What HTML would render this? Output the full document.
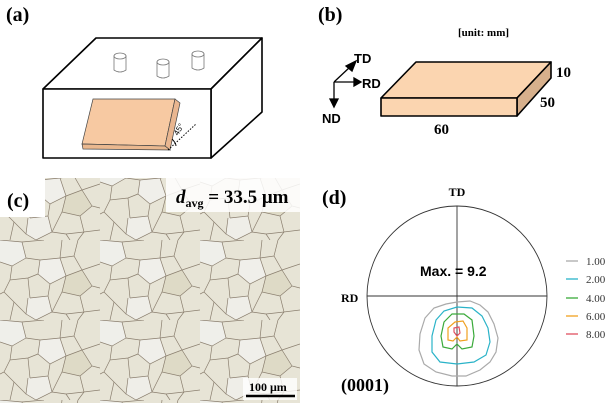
<!DOCTYPE html>
<html><head><style>
html,body{margin:0;padding:0;background:#fff;}
svg{display:block;}
</style></head><body>
<svg width="612" height="403" viewBox="0 0 612 403" xmlns="http://www.w3.org/2000/svg">
<defs>
<pattern id="grains" x="0" y="0" width="100" height="80" patternUnits="userSpaceOnUse">
<rect width="100" height="80" fill="#e7e4d6"/>
<polygon points="0,0 22,2 26,18 12,26 0,22" fill="#efefea"/>
<polygon points="40,20 60,18 66,36 50,44 38,34" fill="#f0efea"/>
<polygon points="66,36 82,30 92,46 80,56 62,52" fill="#dedac6"/>
<polygon points="28,58 48,56 52,72 36,80 26,74" fill="#efeee8"/>
<g fill="none" stroke="#8a7e6e" stroke-width="0.7">
<path d="M0,0 L22,2 L26,18 L12,26 L0,22"/>
<path d="M22,2 L44,0 M26,18 L40,20 L60,18 L62,0 M60,18 L74,16 L82,30 M74,16 L78,0"/>
<path d="M40,20 L38,34 L50,44 L66,36 L60,18 M66,36 L82,30 L100,24 M82,30 L92,46 L100,48"/>
<path d="M12,26 L10,40 L28,38 L38,34 M28,38 L30,58 M10,40 L4,52 L0,54 M4,52 L14,62 L26,74"/>
<path d="M50,44 L48,56 M30,58 L48,56 L52,72 L36,80 L26,74 L28,58 M14,62 L10,80"/>
<path d="M66,36 L62,52 L80,56 L92,46 M62,52 L52,72 M80,56 L84,72 L100,70 M84,72 L78,80 M52,72 L66,74 L70,80 M66,74 L84,72"/>
<path d="M0,22 L0,22 M0,80 L0,80"/>
</g>
</pattern>
</defs>

<!-- (a) -->
<text x="6" y="21" font-family="Liberation Serif" font-weight="bold" font-size="20">(a)</text>
<g stroke="#000" stroke-width="1.6" fill="#fff" stroke-linejoin="round">
<polygon points="43,89 96,38 262,38 211,89"/>
<polygon points="211,89 262,38 262,112 211,158"/>
<rect x="43" y="89" width="168" height="69"/>
</g>
<g fill="#fff" stroke="#777" stroke-width="0.8">
<path d="M114,56 L114,70 Q120,74 126,70 L126,56 Z"/><ellipse cx="120" cy="56" rx="6" ry="3"/>
<path d="M157,62 L157,76 Q163,80 169,76 L169,62 Z"/><ellipse cx="163" cy="62" rx="6" ry="3"/>
<path d="M192,54 L192,68 Q198,72 204,68 L204,54 Z"/><ellipse cx="198" cy="54" rx="6" ry="3"/>
</g>
<g stroke="#444" stroke-width="0.7">
<polygon points="93,99 175,99 165,146 82,144" fill="#f7c9a2"/>
<polygon points="175,99 180,103 170,150 165,146" fill="#e9b690"/>
<polygon points="82,144 165,146 170,150 83,149" fill="#eab88f"/>
</g>
<line x1="168" y1="150" x2="196" y2="124" stroke="#000" stroke-width="1" stroke-dasharray="1.5,1.5"/>
<path d="M172,139 Q176,143 176,146" fill="none" stroke="#000" stroke-width="0.9"/>
<text x="178" y="136" font-family="Liberation Sans" font-size="8" transform="rotate(-60 178 136)">45°</text>

<!-- (b) -->
<text x="318" y="21" font-family="Liberation Serif" font-weight="bold" font-size="20">(b)</text>
<text x="458" y="36" font-family="Liberation Serif" font-weight="bold" font-size="11">[unit: mm]</text>
<g stroke="#000" stroke-width="1.6" stroke-linejoin="round">
<polygon points="416,62 551,62 517,98 381,98" fill="#fbd5b0"/>
<polygon points="551,62 551,78 517,116 517,98" fill="#d7b08c"/>
<rect x="381" y="98" width="136" height="18" fill="#fbd5b0"/>
</g>
<text x="556" y="77" font-family="Liberation Serif" font-weight="bold" font-size="15">10</text>
<text x="540" y="107" font-family="Liberation Serif" font-weight="bold" font-size="15">50</text>
<text x="434" y="134" font-family="Liberation Serif" font-weight="bold" font-size="15">60</text>
<g stroke="#000" stroke-width="1.3" fill="#000">
<line x1="334" y1="82" x2="334" y2="100"/><polygon points="330,99 338,99 334,107"/>
<line x1="334" y1="82" x2="355" y2="82"/><polygon points="354,78 354,86 361,82"/>
<line x1="334" y1="82" x2="350" y2="67"/><polygon points="346,66 352,71 356,61"/>
</g>
<g font-family="Liberation Sans" font-weight="bold" font-size="13">
<text x="354" y="63">TD</text><text x="362" y="88">RD</text><text x="322" y="123">ND</text>
</g>

<!-- (c) -->
<rect x="0" y="178" width="300" height="225" fill="url(#grains)"/>
<rect x="0" y="178" width="45" height="39" fill="#fff"/>
<text x="7" y="207" font-family="Liberation Serif" font-weight="bold" font-size="20">(c)</text>
<rect x="166" y="178" width="134" height="34" fill="#fff" fill-opacity="0.85"/>
<text x="176" y="203" font-family="Liberation Serif" font-weight="bold" font-size="19"><tspan font-style="italic">d</tspan><tspan font-size="12" dy="4">avg</tspan><tspan dy="-4"> = 33.5 μm</tspan></text>
<rect x="243" y="378" width="54" height="22" fill="#fff" fill-opacity="0.8"/>
<text x="249" y="391" font-family="Liberation Serif" font-weight="bold" font-size="12">100 μm</text>
<line x1="246" y1="396" x2="295" y2="396" stroke="#000" stroke-width="2.5"/>

<!-- (d) -->
<text x="322" y="204" font-family="Liberation Serif" font-weight="bold" font-size="20">(d)</text>
<text x="457" y="196" text-anchor="middle" font-family="Liberation Serif" font-weight="bold" font-size="12">TD</text>
<text x="341" y="302" font-family="Liberation Serif" font-weight="bold" font-size="12">RD</text>
<circle cx="457" cy="296" r="90" fill="none" stroke="#333" stroke-width="0.9"/>
<line x1="457" y1="206" x2="457" y2="386" stroke="#333" stroke-width="0.9"/>
<line x1="367" y1="296" x2="547" y2="296" stroke="#333" stroke-width="0.9"/>
<text x="420" y="276" font-family="Liberation Sans" font-weight="bold" font-size="14">Max. = 9.2</text>
<g fill="none" stroke-width="1.2">
<path d="M457,302 L470,301 L480,305 L488,312 L494,324 L498,338 L496,352 L490,362 L480,370 L466,376 L452,376 L436,372 L424,364 L419,350 L420,334 L425,318 L434,308 L446,304 Z" stroke="#aaa"/>
<path d="M457,307 L472,308 L482,316 L488,328 L490,342 L486,355 L474,362 L457,364 L440,362 L432,352 L432,336 L436,320 L444,311 Z" stroke="#2ab3c8"/>
<path d="M452,314 L464,314 L472,320 L474,336 L472,347 L462,349 L457,344 L452,349 L443,347 L441,336 L444,322 Z" stroke="#3aaa3a"/>
<path d="M455,322 L463,321 L467,328 L467,340 L460,341 L457,337 L453,341 L448,340 L448,328 Z" stroke="#f0a020"/>
<path d="M454,328 L459,327 L460,333 L457,336 L454,332 Z" stroke="#e05060"/>
</g>
<g font-family="Liberation Serif" font-size="11" fill="#333">
<line x1="566" y1="261" x2="578" y2="261" stroke="#aaa" stroke-width="1.3"/><text x="586" y="265">1.00</text>
<line x1="566" y1="279" x2="578" y2="279" stroke="#2ab3c8" stroke-width="1.3"/><text x="586" y="283">2.00</text>
<line x1="566" y1="298" x2="578" y2="298" stroke="#3aaa3a" stroke-width="1.3"/><text x="586" y="302">4.00</text>
<line x1="566" y1="316" x2="578" y2="316" stroke="#f0a020" stroke-width="1.3"/><text x="586" y="320">6.00</text>
<line x1="566" y1="334" x2="578" y2="334" stroke="#e05060" stroke-width="1.3"/><text x="586" y="338">8.00</text>
</g>
<text x="341" y="391" font-family="Liberation Serif" font-weight="bold" font-size="18">(0001)</text>
</svg>
</body></html>
